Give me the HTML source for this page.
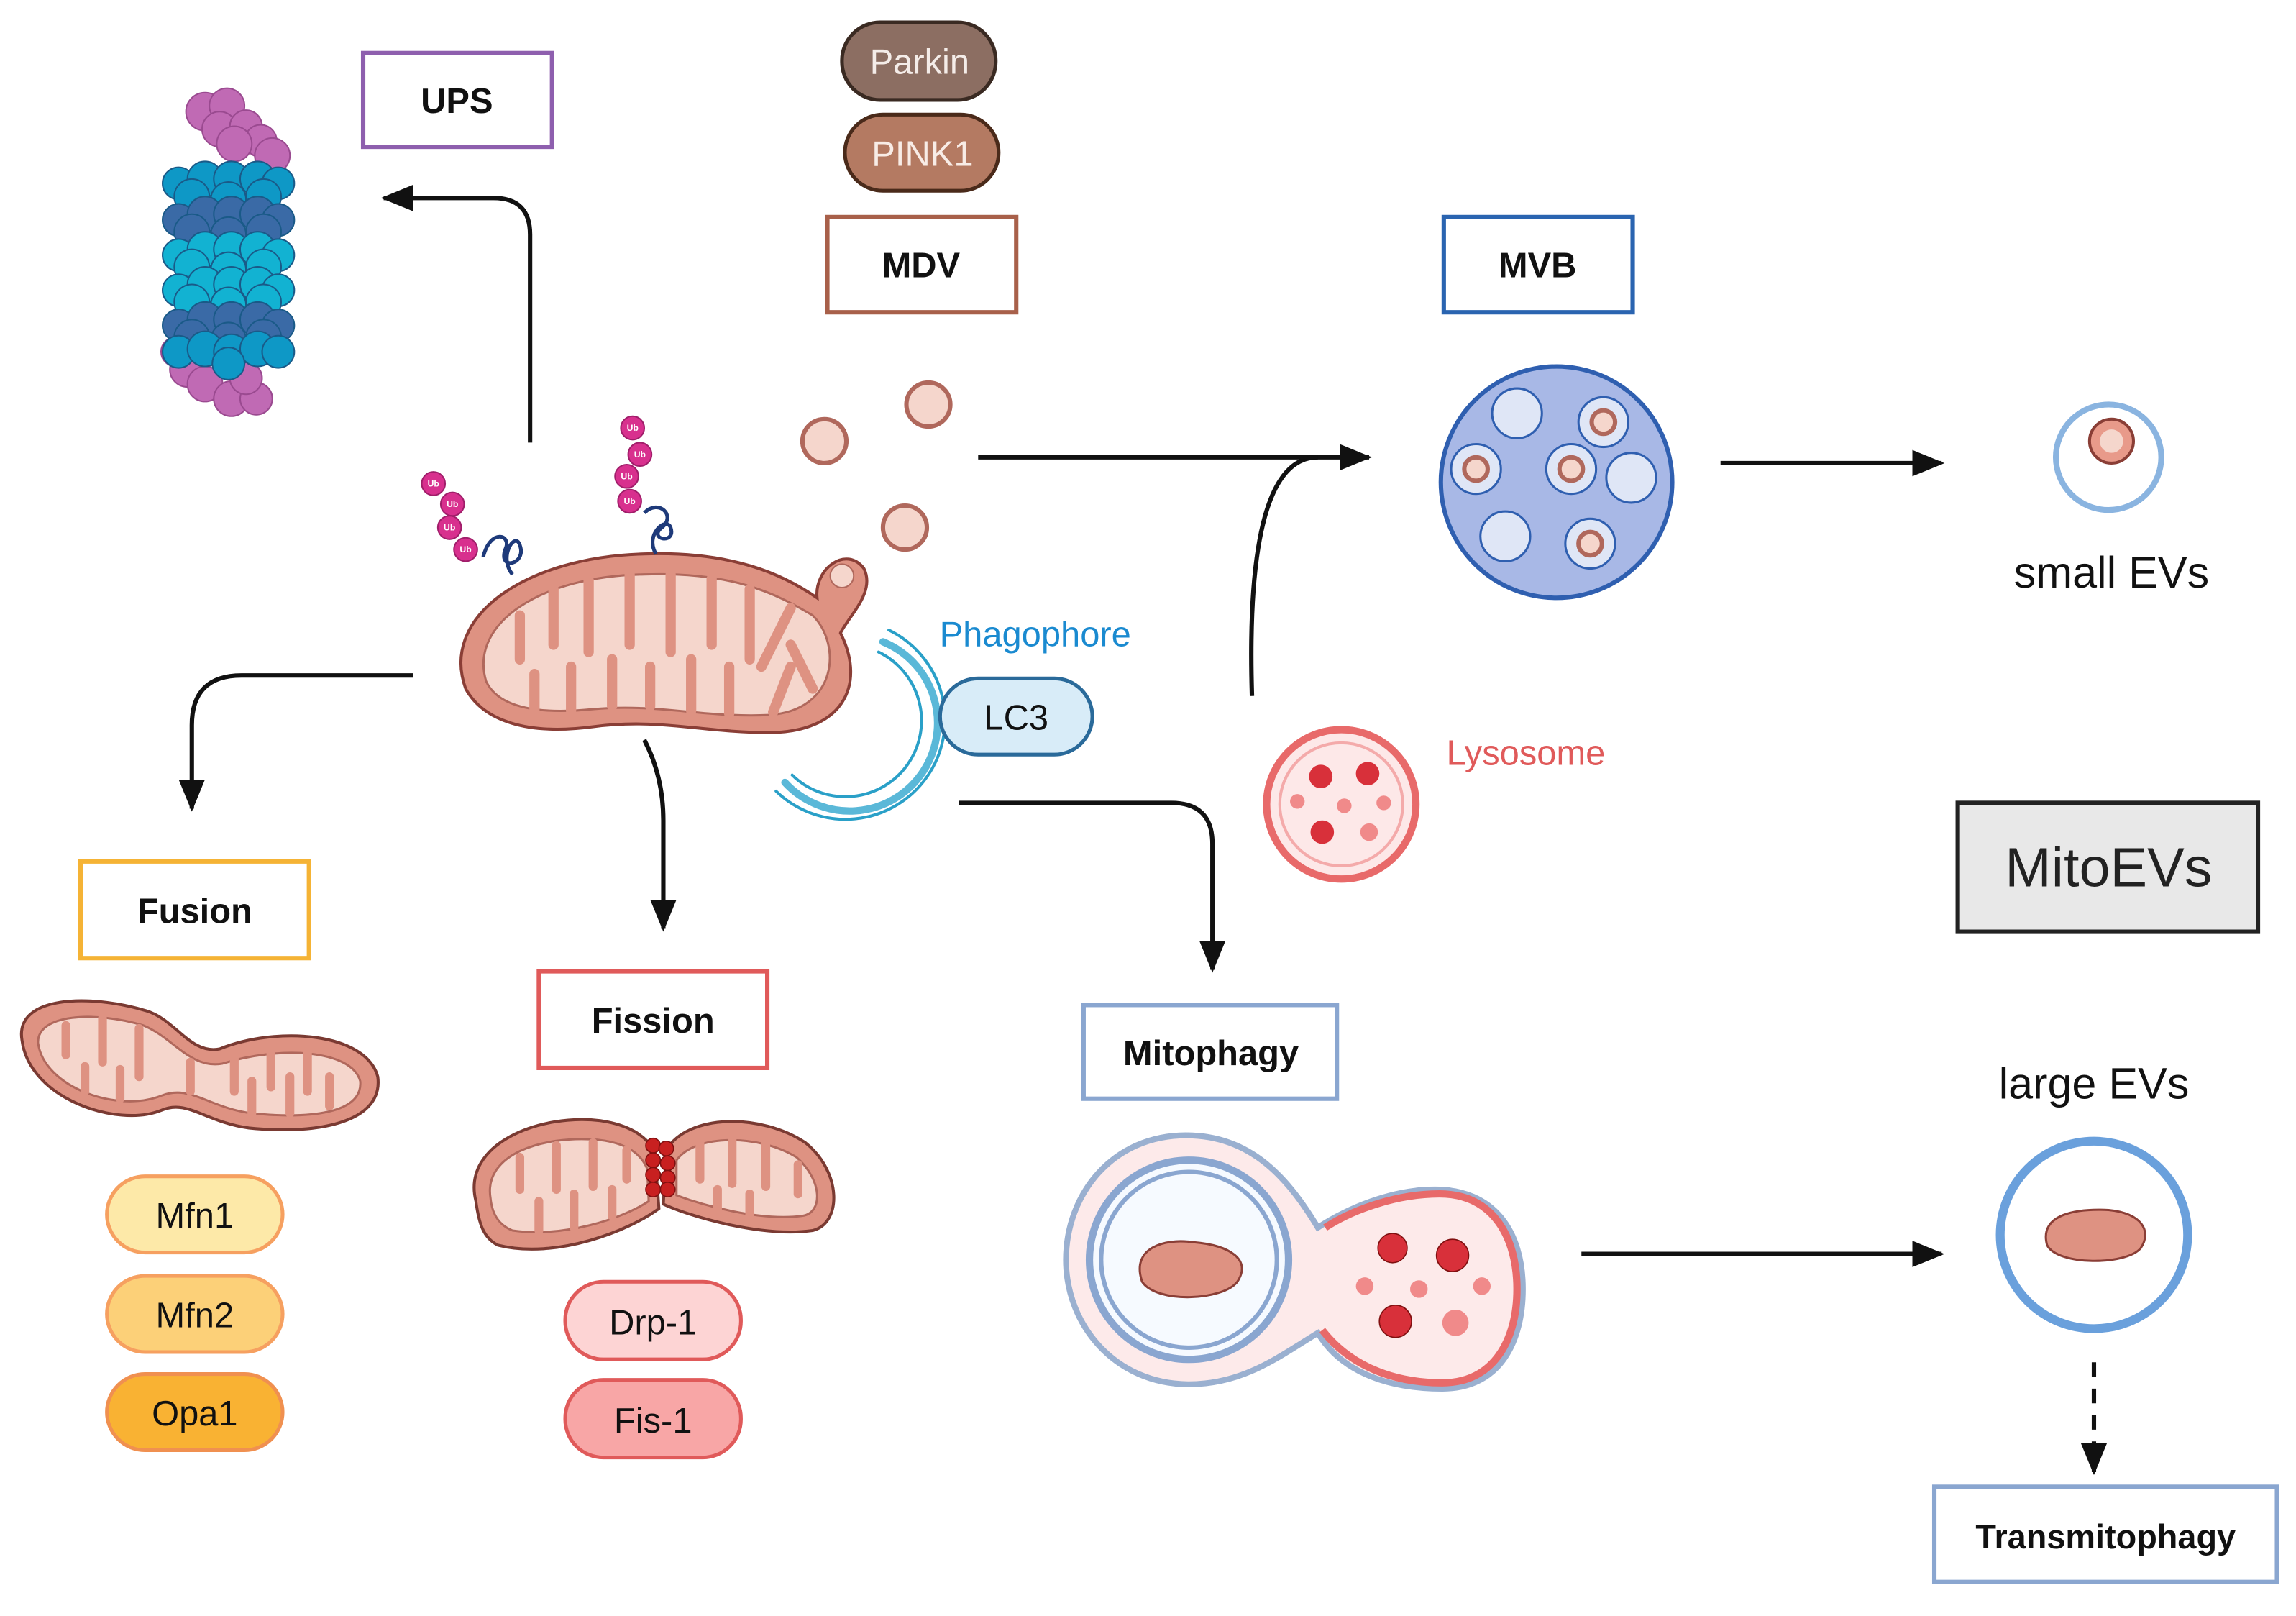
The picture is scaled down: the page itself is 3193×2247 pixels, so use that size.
<!DOCTYPE html>
<html><head><meta charset="utf-8"><style>
html,body{margin:0;padding:0;background:#fff}
svg{display:block}
text{font-family:"Liberation Sans",sans-serif}
</style></head><body>
<svg width="3193" height="2247" viewBox="0 0 1568 1103" xmlns="http://www.w3.org/2000/svg">
<defs>
<marker id="ahb" markerWidth="22" markerHeight="22" refX="20" refY="11" orient="auto" markerUnits="userSpaceOnUse" viewBox="0 0 22 22"><path d="M0,2 L22,11 L0,20 Z" fill="#111"/></marker>
</defs>

<!-- Proteasome -->
<g stroke-width="1">
<g fill="#c06ab4" stroke="#9a4a90">
<circle cx="140" cy="76" r="13"/><circle cx="155" cy="72" r="12"/><circle cx="150" cy="88" r="12"/><circle cx="168" cy="86" r="11"/><circle cx="178" cy="96" r="11"/><circle cx="186" cy="106" r="12"/><circle cx="160" cy="98" r="12"/>
<circle cx="128" cy="252" r="12"/><circle cx="140" cy="262" r="12"/><circle cx="158" cy="272" r="12"/><circle cx="175" cy="272" r="11"/><circle cx="168" cy="258" r="11"/><circle cx="120" cy="240" r="10"/>
</g>
<g stroke="#1a5a88">
<g fill="#0e98c6"><circle cx="122" cy="125" r="11"/><circle cx="140" cy="122" r="12"/><circle cx="158" cy="122" r="12"/><circle cx="176" cy="122" r="12"/><circle cx="190" cy="125" r="11"/><circle cx="131" cy="134" r="12"/><circle cx="156" cy="136" r="12"/><circle cx="180" cy="134" r="12"/></g>
<g fill="#3a6aa6"><circle cx="122" cy="150" r="11"/><circle cx="140" cy="146" r="12"/><circle cx="158" cy="146" r="12"/><circle cx="176" cy="146" r="12"/><circle cx="190" cy="150" r="11"/><circle cx="131" cy="158" r="12"/><circle cx="156" cy="160" r="12"/><circle cx="180" cy="158" r="12"/></g>
<g fill="#12b2d2"><circle cx="122" cy="174" r="11"/><circle cx="140" cy="170" r="12"/><circle cx="158" cy="170" r="12"/><circle cx="176" cy="170" r="12"/><circle cx="190" cy="174" r="11"/><circle cx="131" cy="182" r="12"/><circle cx="156" cy="184" r="12"/><circle cx="180" cy="182" r="12"/></g>
<g fill="#12b2d2"><circle cx="122" cy="198" r="11"/><circle cx="140" cy="194" r="12"/><circle cx="158" cy="194" r="12"/><circle cx="176" cy="194" r="12"/><circle cx="190" cy="198" r="11"/><circle cx="131" cy="206" r="12"/><circle cx="156" cy="208" r="12"/><circle cx="180" cy="206" r="12"/></g>
<g fill="#3a6aa6"><circle cx="122" cy="222" r="11"/><circle cx="140" cy="218" r="12"/><circle cx="158" cy="218" r="12"/><circle cx="176" cy="218" r="12"/><circle cx="190" cy="222" r="11"/><circle cx="131" cy="230" r="12"/><circle cx="156" cy="232" r="12"/><circle cx="180" cy="230" r="12"/></g>
<g fill="#0e98c6"><circle cx="122" cy="240" r="11"/><circle cx="140" cy="238" r="12"/><circle cx="158" cy="240" r="12"/><circle cx="176" cy="238" r="12"/><circle cx="190" cy="240" r="11"/><circle cx="156" cy="248" r="11"/></g>
</g>
</g>

<!-- Boxes -->
<g fill="#fff" stroke-width="3">
<rect x="248" y="36" width="129" height="64" stroke="#8e5fae"/>
<rect x="565" y="148" width="129" height="65" stroke="#a8604a"/>
<rect x="986" y="148" width="129" height="65" stroke="#2a64b0"/>
<rect x="55" y="588" width="156" height="66" stroke="#f5b335"/>
<rect x="368" y="663" width="156" height="66" stroke="#e05a5a"/>
<rect x="740" y="686" width="173" height="64" stroke="#8aa6d0"/>
<rect x="1321" y="1015" width="234" height="65" stroke="#8aa6d0"/>
<rect x="1337" y="548" width="205" height="88" fill="#e8e8e8" stroke="#222"/>
</g>
<g font-weight="bold" font-size="24" text-anchor="middle" fill="#111">
<text x="312" y="77">UPS</text>
<text x="629" y="189">MDV</text>
<text x="1050" y="189">MVB</text>
<text x="133" y="630">Fusion</text>
<text x="446" y="705">Fission</text>
<text x="827" y="727">Mitophagy</text>
<text x="1438" y="1057" font-size="23">Transmitophagy</text>
</g>
<text x="1440" y="605" font-size="38" text-anchor="middle" fill="#222">MitoEVs</text>

<!-- Pills -->
<g stroke-width="2.5" font-size="24" text-anchor="middle">
<rect x="575" y="15" width="105" height="53" rx="26" fill="#8c6e62" stroke="#3a2a22"/>
<text x="628" y="50" fill="#f4ece8">Parkin</text>
<rect x="577" y="78" width="105" height="52" rx="26" fill="#b47a62" stroke="#4a2a1a"/>
<text x="630" y="113" fill="#f8ece6">PINK1</text>
<rect x="73" y="803" width="120" height="52" rx="26" fill="#fde9a8" stroke="#f6a060"/>
<text x="133" y="838" fill="#111">Mfn1</text>
<rect x="73" y="871" width="120" height="52" rx="26" fill="#fcd078" stroke="#f6a060"/>
<text x="133" y="906" fill="#111">Mfn2</text>
<rect x="73" y="938" width="120" height="52" rx="26" fill="#f9b233" stroke="#f09050"/>
<text x="133" y="973" fill="#111">Opa1</text>
<rect x="386" y="875" width="120" height="53" rx="26" fill="#fdd4d4" stroke="#e05a5a"/>
<text x="446" y="911" fill="#111">Drp-1</text>
<rect x="386" y="942" width="120" height="53" rx="26" fill="#f8a6a6" stroke="#e05a5a"/>
<text x="446" y="978" fill="#111">Fis-1</text>
</g>

<!-- Texts -->
<text x="707" y="441" font-size="24" fill="#1a8ad0" text-anchor="middle">Phagophore</text>
<text x="1042" y="522" font-size="24" fill="#e05a5a" text-anchor="middle">Lysosome</text>
<text x="1442" y="401" font-size="30" fill="#111" text-anchor="middle">small EVs</text>
<text x="1430" y="750" font-size="30" fill="#111" text-anchor="middle">large EVs</text>

<!-- Arrows -->
<g fill="none" stroke="#111" stroke-width="3">
<path d="M362,302 V160 Q362,135 337,135 H262" marker-end="url(#ahb)"/>
<path d="M282,461 H165 Q131,461 131,495 V552" marker-end="url(#ahb)"/>
<path d="M440,505 Q453,530 453,560 V634" marker-end="url(#ahb)"/>
<path d="M655,548 H800 Q828,548 828,576 V662" marker-end="url(#ahb)"/>
<path d="M668,312 H935" marker-end="url(#ahb)"/>
<path d="M855,475 Q850,312 900,312"/>
<path d="M1175,316 H1326" marker-end="url(#ahb)"/>
<path d="M1080,856 H1326" marker-end="url(#ahb)"/>
<path d="M1430,930 V1005" stroke-dasharray="10,8" marker-end="url(#ahb)"/>
</g>

<!-- Main mitochondrion -->
<g stroke="#8a3e36" stroke-width="2">
<path d="M318,470 C300,420 360,380 440,378 C500,376 535,392 558,408 C556,388 578,372 590,388 C598,404 580,420 574,432 C592,468 575,500 525,500 C480,500 450,490 405,496 C360,502 330,492 318,470 Z" fill="#de9282"/>
<path d="M332,465 C320,425 370,393 440,392 C500,390 530,405 555,420 C575,440 572,485 525,488 C480,490 450,480 405,484 C365,488 340,482 332,465 Z" fill="#f5d6cc" stroke="#b0685c" stroke-width="1.5"/>
</g>
<g stroke="#de9282" stroke-width="7" stroke-linecap="round" fill="none">
<path d="M355,420 V450"/><path d="M378,402 V440"/><path d="M402,396 V445"/><path d="M430,392 V440"/><path d="M458,392 V445"/><path d="M486,395 V440"/><path d="M512,402 V450"/><path d="M540,415 L520,455"/>
<path d="M365,485 V460"/><path d="M390,485 V455"/><path d="M418,482 V450"/><path d="M444,482 V455"/><path d="M472,485 V450"/><path d="M498,487 V455"/><path d="M528,486 L540,455"/><path d="M555,470 L540,440"/>
</g>
<circle cx="575" cy="393" r="8" fill="#f5d6cc" stroke="#b0685c"/>
<!-- Ub chains -->
<g fill="#d8308e" stroke="#a01e6a" stroke-width="1">
<circle cx="296" cy="330" r="8"/><circle cx="309" cy="344" r="8"/><circle cx="307" cy="360" r="8"/><circle cx="318" cy="375" r="8"/>
<circle cx="432" cy="292" r="8"/><circle cx="437" cy="310" r="8"/><circle cx="428" cy="325" r="8"/><circle cx="430" cy="342" r="8"/>
</g>
<g fill="#fff" font-size="6" text-anchor="middle" font-weight="bold">
<text x="296" y="332">Ub</text><text x="309" y="346">Ub</text><text x="307" y="362">Ub</text><text x="318" y="377">Ub</text>
<text x="432" y="294">Ub</text><text x="437" y="312">Ub</text><text x="428" y="327">Ub</text><text x="430" y="344">Ub</text>
</g>
<g fill="none" stroke="#1e3a7a" stroke-width="2.5">
<path d="M330,380 C335,360 350,365 345,375 C340,390 360,385 355,372 C352,362 340,380 350,392"/>
<path d="M440,350 C450,340 462,352 452,360 C442,368 462,372 458,360 C455,352 440,365 448,378"/>
</g>
<!-- MDV vesicles -->
<g fill="#f5d6cc" stroke="#b0685c" stroke-width="3">
<circle cx="563" cy="301" r="15"/><circle cx="634" cy="276" r="15"/><circle cx="618" cy="360" r="15"/>
</g>
<!-- Phagophore -->
<g fill="none" stroke="#2aa0c8" stroke-linecap="round">
<path d="M603,438 A60,60 0 1 1 536,534" stroke-width="5" stroke="#5ab8d8"/>
<path d="M600,445 A52,52 0 1 1 541,529" stroke-width="2"/>
<path d="M607,430 A68,68 0 1 1 530,540" stroke-width="2"/>
</g>
<rect x="642" y="463" width="104" height="52" rx="26" fill="#d8ecf8" stroke="#2a6a9a" stroke-width="2.5"/>
<text x="694" y="498" fill="#111" font-size="24" text-anchor="middle">LC3</text>
<!-- MVB -->
<circle cx="1063" cy="329" r="79" fill="#a8b8e6" stroke="#2f5fb0" stroke-width="3"/>
<g fill="#dfe6f6" stroke="#2f5fb0" stroke-width="1.5">
<circle cx="1036" cy="282" r="17"/><circle cx="1095" cy="288" r="17"/><circle cx="1008" cy="320" r="17"/><circle cx="1073" cy="320" r="17"/><circle cx="1114" cy="326" r="17"/><circle cx="1028" cy="366" r="17"/><circle cx="1086" cy="371" r="17"/>
</g>
<g fill="#f5d6cc" stroke="#b0685c" stroke-width="3">
<circle cx="1095" cy="288" r="8"/><circle cx="1008" cy="320" r="8"/><circle cx="1073" cy="320" r="8"/><circle cx="1086" cy="371" r="8"/>
</g>
<!-- small EV -->
<circle cx="1440" cy="312" r="36" fill="#fff" stroke="#8ab4e0" stroke-width="4"/>
<circle cx="1442" cy="301" r="15" fill="#e89a8a" stroke="#8a3e36" stroke-width="2"/>
<circle cx="1442" cy="301" r="8" fill="#f5d6cc"/>
<!-- Lysosome -->
<circle cx="916" cy="549" r="51" fill="#fde8e8" stroke="#e86a6a" stroke-width="5"/>
<circle cx="916" cy="549" r="42" fill="none" stroke="#f4aaaa" stroke-width="2"/>
<g fill="#d8303a"><circle cx="902" cy="530" r="8"/><circle cx="934" cy="528" r="8"/><circle cx="903" cy="568" r="8"/></g>
<g fill="#f08a8a"><circle cx="886" cy="547" r="5"/><circle cx="918" cy="550" r="5"/><circle cx="945" cy="548" r="5"/><circle cx="935" cy="568" r="6"/></g>
<!-- Fused mito -->
<path d="M15,710 C10,680 60,678 100,690 C120,696 130,720 150,716 C190,700 250,705 258,735 C262,765 220,775 170,770 C140,766 128,750 110,758 C80,770 20,750 15,710 Z" fill="#de9282" stroke="#7a3a32" stroke-width="2"/>
<path d="M26,712 C25,692 65,690 98,700 C118,708 130,730 152,726 C190,714 240,716 246,738 C248,760 212,764 172,760 C142,756 130,740 110,748 C80,760 30,742 26,712 Z" fill="#f5d6cc" stroke="#b0685c" stroke-width="1.5"/>
<g stroke="#de9282" stroke-width="6" stroke-linecap="round" fill="none">
<path d="M45,700 V720"/><path d="M70,695 V725"/><path d="M95,702 V735"/><path d="M160,722 V745"/><path d="M185,716 V742"/><path d="M210,718 V745"/>
<path d="M58,745 V728"/><path d="M82,750 V730"/><path d="M130,745 V725"/><path d="M172,760 V738"/><path d="M198,760 V735"/><path d="M225,755 V735"/>
</g>
<!-- Fission mitos -->
<path d="M325,820 C315,780 370,760 410,765 C430,768 440,775 447,785 L450,825 C430,840 380,860 340,850 C330,845 327,835 325,820 Z" fill="#de9282" stroke="#7a3a32" stroke-width="2"/>
<path d="M455,785 C470,760 520,760 550,780 C575,800 575,835 555,840 C520,845 470,830 453,822 Z" fill="#de9282" stroke="#7a3a32" stroke-width="2"/>
<path d="M335,818 C330,788 370,775 408,778 C428,780 438,788 442,798 L443,820 C425,832 385,845 350,840 C340,836 336,828 335,818 Z" fill="#f5d6cc" stroke="#b0685c" stroke-width="1.5"/>
<path d="M462,792 C475,774 518,774 544,790 C562,806 562,828 548,830 C518,834 478,822 462,816 Z" fill="#f5d6cc" stroke="#b0685c" stroke-width="1.5"/>
<g stroke="#de9282" stroke-width="6" stroke-linecap="round" fill="none">
<path d="M355,790 V812"/><path d="M380,782 V812"/><path d="M405,780 V810"/><path d="M428,785 V805"/><path d="M368,840 V820"/><path d="M392,838 V815"/><path d="M418,830 V812"/>
<path d="M478,780 V805"/><path d="M500,776 V808"/><path d="M523,780 V810"/><path d="M545,795 V815"/><path d="M490,828 V812"/><path d="M512,832 V815"/>
</g>
<g fill="#c82020" stroke="#801010" stroke-width="0.8">
<circle cx="446" cy="782" r="5"/><circle cx="455" cy="784" r="5"/><circle cx="446" cy="792" r="5"/><circle cx="456" cy="794" r="5"/><circle cx="446" cy="802" r="5"/><circle cx="456" cy="804" r="5"/><circle cx="446" cy="812" r="5"/><circle cx="456" cy="812" r="5"/>
</g>
<!-- Autolysosome -->
<path d="M810,775 C760,775 728,815 728,860 C728,905 762,945 812,945 C850,945 875,925 900,910 C915,935 945,948 985,948 C1025,948 1040,915 1040,880 C1040,840 1020,812 980,812 C950,812 920,825 900,838 C880,805 855,775 810,775 Z" fill="#fdeaea" stroke="#9ab0d0" stroke-width="4"/>
<path d="M905,838 C925,825 955,815 983,815 C1020,815 1036,845 1036,880 C1036,915 1020,944 985,944 C948,944 920,930 903,908" fill="none" stroke="#e86a6a" stroke-width="5"/>
<circle cx="812" cy="860" r="68" fill="#f6faff" stroke="#8aa6d0" stroke-width="5"/>
<circle cx="812" cy="860" r="60" fill="none" stroke="#8aa6d0" stroke-width="3"/>
<path d="M780,875 C772,852 795,845 815,848 C840,850 855,860 845,875 C835,888 790,890 780,875 Z" fill="#de9282" stroke="#8a3e36" stroke-width="1.5"/>
<g fill="#d8303a" stroke="#801010" stroke-width="0.8"><circle cx="951" cy="852" r="10"/><circle cx="992" cy="857" r="11"/><circle cx="953" cy="902" r="11"/></g>
<g fill="#f08a8a"><circle cx="932" cy="878" r="6"/><circle cx="969" cy="880" r="6"/><circle cx="1012" cy="878" r="6"/><circle cx="994" cy="903" r="9"/></g>
<!-- Large EV -->
<circle cx="1430" cy="843" r="64" fill="#fff" stroke="#6aa0dc" stroke-width="6"/>
<path d="M1398,850 C1392,828 1420,825 1440,826 C1462,828 1470,840 1462,852 C1452,864 1405,864 1398,850 Z" fill="#de9282" stroke="#8a3e36" stroke-width="1.5"/>
</svg>
</body></html>
